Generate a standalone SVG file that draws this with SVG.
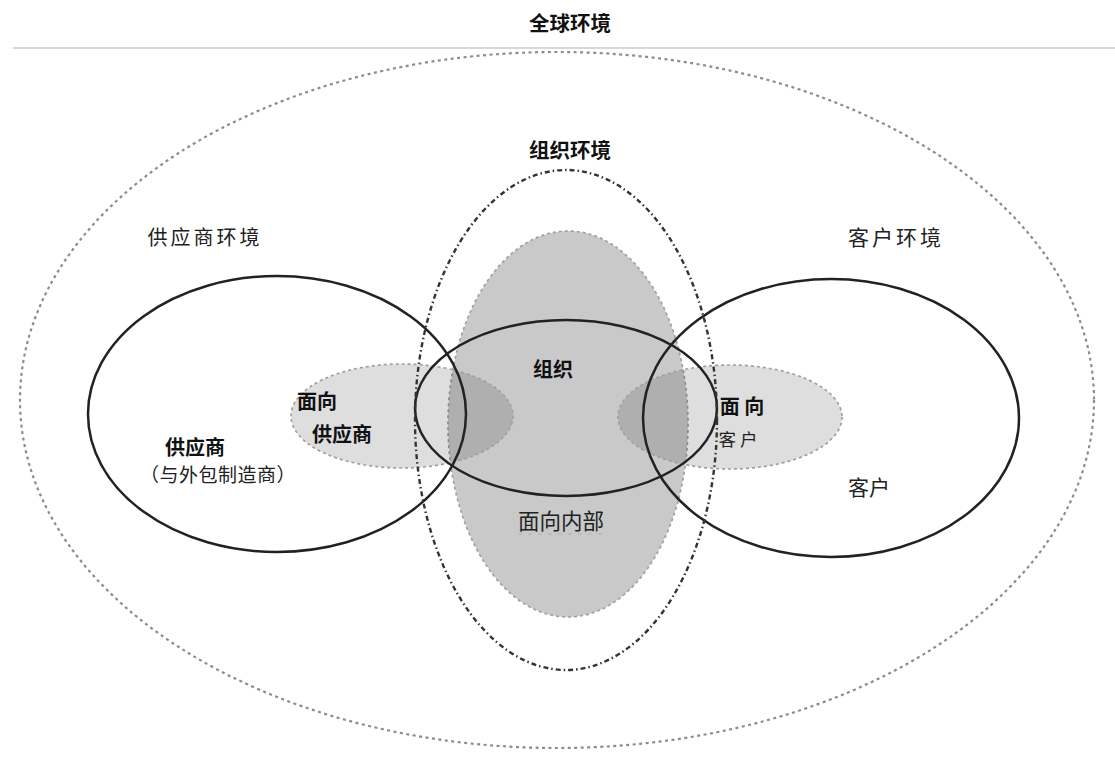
<svg xmlns="http://www.w3.org/2000/svg" width="1115" height="758" viewBox="0 0 1115 758">
  <style>
    .t { font-family: "Noto Sans CJK SC", "Noto Sans", sans-serif; fill: #111; }
    .b { font-weight: bold; }
    .r { font-weight: normal; fill: #222; }
    .solid { fill: none; stroke: #222; stroke-width: 2.5; }
    .shade { stroke: #a0a0a0; stroke-width: 1.7; stroke-dasharray: 3 3; }
  </style>
  <rect x="0" y="0" width="1115" height="758" fill="#ffffff"/>
  <line x1="13" y1="48" x2="1115" y2="48" stroke="#d8d8d8" stroke-width="2"/>

  <g id="global-env">
    <ellipse cx="557" cy="400" rx="537" ry="348" fill="none" stroke="#8c8c8c" stroke-width="2.2" stroke-dasharray="3 3.5"/>
    <text class="t b" x="570" y="31" font-size="20.5" text-anchor="middle">全球环境</text>
  </g>

  <g id="internal-facing">
    <ellipse class="shade" cx="568" cy="424" rx="120" ry="193" fill="#000" fill-opacity="0.21"/>
  </g>
  <g id="supplier-facing">
    <ellipse class="shade" cx="402" cy="416" rx="111" ry="52" fill="#000" fill-opacity="0.13"/>
  </g>
  <g id="customer-facing">
    <ellipse class="shade" cx="730" cy="417" rx="112" ry="52" fill="#000" fill-opacity="0.13"/>
  </g>

  <g id="supplier">
    <ellipse class="solid" cx="277" cy="414" rx="189" ry="138"/>
    <text class="t b" x="195" y="455" font-size="20" text-anchor="middle">供应商</text>
    <text class="t r" x="218" y="482" font-size="19" letter-spacing="0.5" text-anchor="middle">（与外包制造商）</text>
  </g>
  <g id="customer">
    <ellipse class="solid" cx="831" cy="418" rx="188" ry="139"/>
    <text class="t r" x="869" y="495" font-size="21" text-anchor="middle">客户</text>
  </g>
  <g id="organization">
    <ellipse class="solid" cx="566" cy="408" rx="151" ry="88" stroke-width="2.1"/>
    <text class="t b" x="553" y="377" font-size="20" text-anchor="middle">组织</text>
  </g>

  <g id="org-env">
    <ellipse cx="566" cy="420" rx="151" ry="250" fill="none" stroke="#333" stroke-width="2.4" stroke-dasharray="5 3 1.5 3"/>
    <text class="t b" x="570" y="158" font-size="20.5" text-anchor="middle">组织环境</text>
  </g>

  <g id="labels">
    <text class="t r" x="205" y="245" font-size="20" letter-spacing="3" text-anchor="middle">供应商环境</text>
    <text class="t r" x="896" y="245" font-size="21" letter-spacing="3" text-anchor="middle">客户环境</text>
    <text class="t b" x="317" y="409" font-size="20" text-anchor="middle">面向</text>
    <text class="t b" x="342" y="442" font-size="20" text-anchor="middle">供应商</text>
    <text class="t b" x="742" y="414" font-size="20" text-anchor="middle">面 向</text>
    <text class="t r" x="738" y="446" font-size="17.5" text-anchor="middle">客 户</text>
    <text class="t r" x="561" y="529" font-size="21.5" text-anchor="middle">面向内部</text>
    <line x1="518" y1="534" x2="605" y2="534" stroke="#b0b0b0" stroke-width="1" stroke-dasharray="4 6"/>
  </g>

  <g id="connectors"/>
</svg>
